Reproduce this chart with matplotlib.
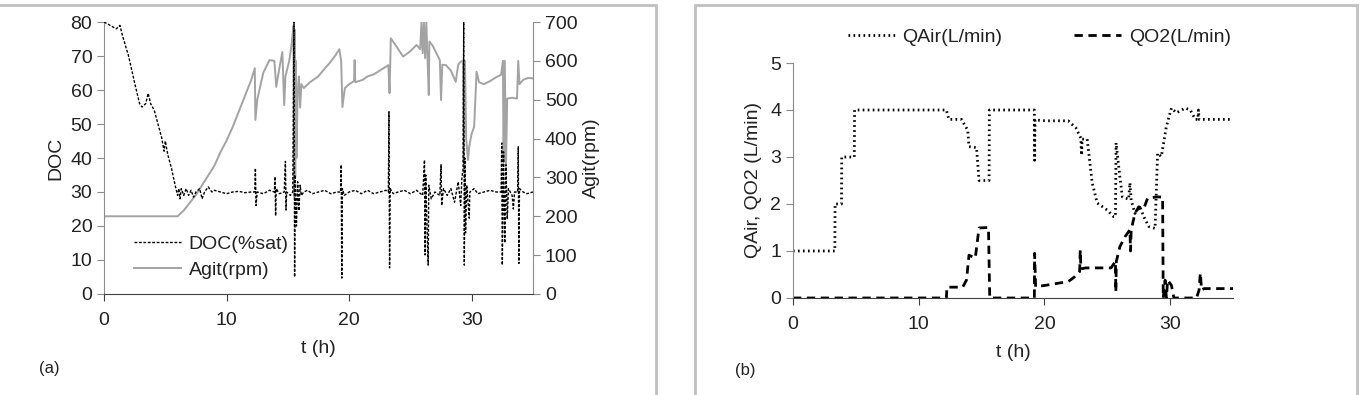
import matplotlib
matplotlib.use("Agg")
import matplotlib.pyplot as plt
from matplotlib.patches import Rectangle

plt.rcParams['font.family'] = ['Liberation Sans', 'DejaVu Sans']
plt.rcParams['font.size'] = 14

# Panel (a): dissolved oxygen (% sat) vs time
doc_t = [0, 0.5, 1.0, 1.3, 1.5, 2.0, 2.5, 2.9, 3.1, 3.4, 3.6, 3.8, 4.1, 4.4, 4.7, 4.9, 5.0, 5.2,
         5.5, 5.8, 6.0, 6.1, 6.2, 6.3, 6.5, 6.7, 6.9, 7.1, 7.3, 7.5, 7.8, 8.0, 8.2, 8.5, 8.8, 9.0,
         9.5, 10.0, 10.5, 11.0, 11.5, 12.0, 12.3, 12.35, 12.4, 12.5, 13.0, 13.5, 13.9, 13.95, 14.0,
         14.05, 14.3, 14.7, 14.8, 14.85, 14.9, 15.2, 15.4, 15.5, 15.55, 15.6, 15.7, 15.8, 15.9, 16.0,
         16.1, 16.3, 16.6, 17.0, 17.5, 18.0, 18.5, 19.0, 19.3, 19.35, 19.4, 19.45, 19.6, 20.0, 20.5,
         21.0, 21.5, 22.0, 22.5, 23.0, 23.2, 23.25, 23.3, 23.35, 23.6, 24.0, 24.5, 25.0, 25.5, 26.0,
         26.15, 26.2, 26.25, 26.35, 26.45, 26.5, 26.7, 27.0, 27.4, 27.5, 27.55, 27.7, 28.0, 28.3,
         28.6, 28.9, 29.1, 29.2, 29.3, 29.35, 29.4, 29.45, 29.5, 29.6, 29.8, 29.85, 30.2, 30.5, 31.0,
         31.5, 32.0, 32.4, 32.45, 32.5, 32.6, 32.7, 32.8, 32.9, 33.0, 33.3, 33.4, 33.5, 33.75, 33.8,
         33.85, 33.9, 34.2, 34.5, 35.0]
doc_v = [80, 79, 78, 79, 76, 70, 62, 56, 55, 56, 59, 56, 54, 50, 46, 42, 45, 41,
         37, 32, 29, 31, 28, 31, 29, 31, 29, 30.5, 28.5, 30, 31, 28, 30, 31.5, 30, 30.5,
         30, 29.5, 30, 30.2, 29.8, 30, 30, 37, 26, 30, 29.5, 30.5, 30, 34.5, 23,
         31, 29.5, 30, 39, 24.7, 30, 29, 30, 80, 5, 35, 20, 33, 24.5, 32,
         29, 30, 30.5, 29.5, 30, 30.5, 29.5, 30, 30, 38, 4.7, 31, 29, 30, 30.5,
         29.5, 30.5, 29.5, 30, 30.5, 30, 53.6, 7.7, 31, 29.5, 30, 30.5, 29.5, 30.5, 29,
         39.4, 11.5, 35, 20, 8.5, 32, 28, 30, 29, 38, 26, 31, 29, 31,
         27, 33, 26, 34, 37, 80, 8.5, 40, 18, 32, 22.3, 30, 31, 29.5, 30,
         30.5, 30, 30, 44.4, 8.5, 41.8, 15, 38, 22, 31, 29, 25, 30, 30, 43.3,
         9, 31, 30, 29.5, 30]

# Agitation (rpm) vs time
agit_t = [0, 6.0, 6.5, 7.0, 7.5, 8.0, 8.5, 9.0, 9.5, 10.0, 10.5, 11.0, 11.5, 12.0, 12.3, 12.35,
          12.5, 13.0, 13.5, 13.9, 14.05, 14.3, 14.55, 14.7, 14.8, 15.1, 15.3, 15.45, 15.5, 15.55,
          15.6, 15.65, 15.7, 15.8, 15.9, 16.0, 16.1, 16.3, 16.8, 17.45, 18.0, 18.4, 18.9, 19.2,
          19.35, 19.45, 19.65, 20.0, 20.4, 20.45, 20.5, 21.1, 21.5, 22.0, 22.5, 23.2, 23.3, 23.4,
          23.8, 24.4, 25.0, 25.5, 25.8, 25.9, 26.0, 26.1, 26.2, 26.3, 26.4, 26.5, 26.55, 26.8,
          27.4, 27.5, 27.6, 27.9, 28.3, 28.7, 28.9, 29.1, 29.3, 29.35, 29.45, 29.55, 29.7, 29.8,
          30.0, 30.2, 30.4, 30.6, 31.0, 31.5, 32.0, 32.4, 32.55, 32.6, 32.7, 32.8, 32.9, 33.3,
          33.7, 33.8, 33.9, 34.2, 34.6, 35.0]
agit_v = [200, 200, 215, 235, 255, 280, 305, 330, 365, 395, 430, 470, 510, 550, 581, 448,
          500, 570, 602, 600, 533, 580, 623, 486, 560, 598, 640, 690, 250, 680,
          300, 600, 350, 520, 560, 480, 540, 530, 545, 559, 580, 594, 615, 630,
          600, 481, 530, 540, 548, 602, 545, 551, 560, 565, 575, 589, 517, 658,
          640, 611, 625, 641, 630, 700, 620, 700, 607, 700, 600, 512, 650, 640,
          602, 499, 590, 589, 575, 546, 590, 598, 600, 340, 600, 400, 345, 380,
          413, 430, 572, 545, 540, 548, 558, 564, 600, 340, 600, 332, 503, 505,
          503, 600, 540, 551, 556, 555]

# Panel (b): gas flow rates (L/min) vs time
qair_t = [0, 3.33, 3.35, 3.86, 3.88, 4.88, 4.9, 12.2, 12.4, 13.4, 13.9, 14.0, 14.6, 14.8, 15.6,
          15.62, 19.2, 19.22, 19.25, 20.1, 21.9, 22.5, 22.9, 22.95, 23.0, 23.4, 23.8, 24.2, 25.0,
          25.5, 25.65, 25.7, 26.0, 26.2, 26.7, 26.8, 26.9, 27.2, 27.6, 27.9, 28.3, 28.8, 29.0,
          29.3, 29.7, 30.1, 30.5, 31.2, 31.6, 32.0, 32.2, 32.25, 32.3, 35.0]
qair_v = [1.0, 1.0, 2.0, 2.0, 3.0, 3.0, 4.0, 4.0, 3.8, 3.8, 3.57, 3.22, 3.2, 2.5, 2.5,
          4.0, 4.0, 2.93, 3.79, 3.77, 3.77, 3.62, 3.4, 3.04, 3.38, 3.38, 2.45, 2.02, 1.87,
          1.73, 1.73, 3.3, 2.58, 2.15, 2.1, 2.45, 2.08, 1.8, 1.94, 1.73, 1.52, 1.48, 3.08,
          3.01, 3.65, 4.04, 3.94, 4.04, 4.0, 3.8, 3.8, 4.0, 3.8, 3.8]

qo2_t = [0, 12.2, 12.25, 13.5, 13.8, 14.0, 14.5, 14.8, 15.55, 15.65, 19.2, 19.22, 19.3, 20.1,
         21.9, 22.4, 22.8, 22.85, 22.9, 23.3, 25.3, 25.65, 25.68, 25.72, 26.0, 26.4, 26.8, 26.85,
         26.9, 27.2, 27.5, 27.9, 28.2, 28.9, 29.4, 29.45, 29.6, 29.7, 29.8, 30.1, 30.3, 32.1,
         32.3, 32.4, 32.5, 32.7, 35.0]
qo2_v = [0, 0, 0.23, 0.23, 0.38, 0.91, 0.85, 1.49, 1.5, 0, 0, 0.95, 0.24, 0.27,
         0.35, 0.45, 0.56, 1.02, 0.62, 0.64, 0.64, 0.78, 0.13, 0.78, 1.09, 1.3, 1.45, 1.0,
         1.45, 1.8, 1.94, 1.9, 2.12, 2.15, 2.15, 0, 0.38, 0.0, 0.38, 0.27, 0, 0,
         0.17, 0.53, 0.17, 0.2, 0.2]

text_col = '#222222'
ygrey = '#8c8c8c'
xgrey = '#404040'
fs = 14

fig = plt.figure(figsize=(13.62, 3.95), dpi=100)

# light frames around each panel
fig.patches.append(Rectangle((-0.01, -0.1), 0.4916, 1.087, transform=fig.transFigure,
                             fill=False, edgecolor='#c0c0c0', lw=2))
fig.patches.append(Rectangle((0.5103, -0.1), 0.486, 1.087, transform=fig.transFigure,
                             fill=False, edgecolor='#c0c0c0', lw=2))

# ---- panel (a)
ax1 = fig.add_axes([0.0764, 0.2557, 0.3149, 0.6886])
ax2 = ax1.twinx()
l1, = ax1.plot(doc_t, doc_v, color='black', lw=1.0, ls=(0, (2, 1.2)), label='DOC(%sat)', zorder=3)
l2, = ax2.plot(agit_t, agit_v, color='#a3a3a3', lw=1.4, label='Agit(rpm)', zorder=2)
ax1.set_zorder(ax2.get_zorder() + 1)
ax1.patch.set_visible(False)

ax1.set_xlim(0, 35)
ax1.set_ylim(0, 80)
ax2.set_ylim(0, 700)
ax1.set_xticks([0, 10, 20, 30])
ax1.set_yticks(range(0, 81, 10))
ax2.set_yticks(range(0, 701, 100))
for a in (ax1, ax2):
    a.spines['top'].set_visible(False)
ax1.spines['right'].set_visible(False)
ax2.spines['left'].set_visible(False)
ax2.spines['bottom'].set_visible(False)
ax1.spines['left'].set_color(ygrey)
ax2.spines['right'].set_color(ygrey)
ax1.spines['bottom'].set_color(xgrey)
ax1.tick_params(axis='y', colors=ygrey, labelcolor=text_col, length=5, labelsize=fs)
ax2.tick_params(axis='y', colors=ygrey, labelcolor=text_col, length=5, labelsize=fs)
ax1.tick_params(axis='x', colors=xgrey, labelcolor=text_col, length=5, labelsize=fs, pad=8)
ax1.set_ylabel('DOC', color=text_col, fontsize=fs, labelpad=4)
ax2.set_ylabel('Agit(rpm)', color=text_col, fontsize=fs, labelpad=4)
ax1.set_xlabel('t (h)', color=text_col, fontsize=fs, labelpad=8)
ax1.legend(handles=[l1, l2], loc='lower left', bbox_to_anchor=(0.03, -0.01), frameon=False,
           fontsize=fs, handlelength=2.4, handletextpad=0.4, labelspacing=0.45, labelcolor=text_col)
fig.text(0.029, 0.055, '(a)', fontsize=12, color=text_col)

# ---- panel (b)
ax3 = fig.add_axes([0.5822, 0.2456, 0.3231, 0.5949])
l3, = ax3.plot(qair_t, qair_v, color='black', lw=2.0, ls=(0, (0.6, 1.2)), label='QAir(L/min)')
l4, = ax3.plot(qo2_t, qo2_v, color='black', lw=2.0, ls=(0, (3, 2)), label='QO2(L/min)')
ax3.set_xlim(0, 35)
ax3.set_ylim(0, 5)
ax3.set_xticks([0, 10, 20, 30])
ax3.set_yticks(range(0, 6))
ax3.spines['top'].set_visible(False)
ax3.spines['right'].set_visible(False)
ax3.spines['left'].set_color(ygrey)
ax3.spines['bottom'].set_color(xgrey)
ax3.tick_params(axis='y', colors=ygrey, labelcolor=text_col, length=5, labelsize=fs)
ax3.tick_params(axis='x', colors=xgrey, labelcolor=text_col, length=5, labelsize=fs, pad=8)
ax3.set_ylabel('QAir, QO2 (L/min)', color=text_col, fontsize=fs, labelpad=6)
ax3.set_xlabel('t (h)', color=text_col, fontsize=fs, labelpad=8)
ax3.legend(handles=[l3, l4], loc='center', bbox_to_anchor=(0.56, 1.11), ncol=2,
           frameon=False, fontsize=fs, handlelength=2.4, handletextpad=0.4,
           columnspacing=3.7, labelcolor=text_col)
fig.text(0.540, 0.05, '(b)', fontsize=12, color=text_col)

fig.savefig('out.png', dpi=100)
